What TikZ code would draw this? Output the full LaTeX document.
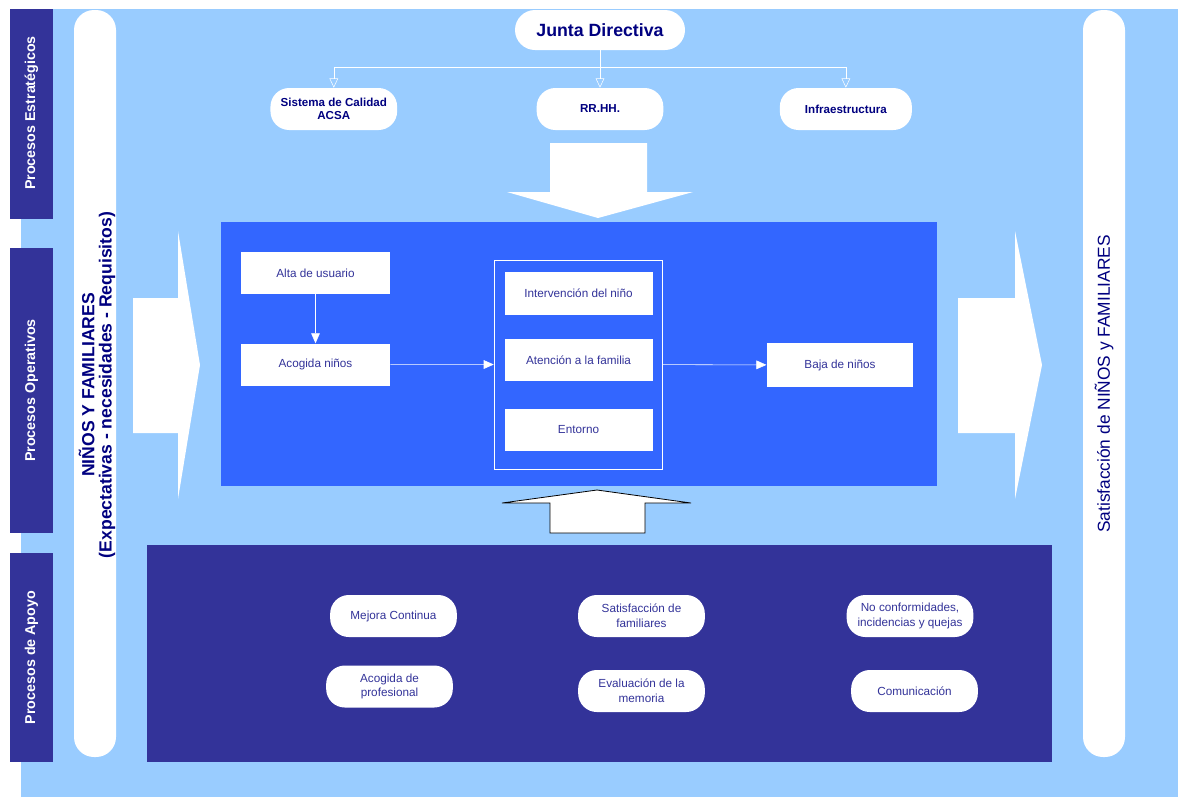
\documentclass[tikz,border=0pt]{standalone}
\usepackage{xcolor}
\usepackage{fontspec}
\setmainfont{Liberation Sans}
\usepackage{tikz}
\usetikzlibrary{positioning, arrows.meta}
\definecolor{fondo}{HTML}{99CCFF}
\definecolor{azuloper}{HTML}{3366FF}
\definecolor{azulapoyo}{HTML}{333399}
\definecolor{marino}{HTML}{000080}

\tikzset{
  estbox/.style={fill=white, rounded corners=14pt, minimum width=95pt,
    minimum height=31.5pt, text=marino, align=center,
    font=\fontsize{8.7}{10}\selectfont\bfseries},
  operbox/.style={fill=white, minimum width=111pt, minimum height=32pt,
    text=azulapoyo, font=\fontsize{8.8}{10}\selectfont},
  apoyobox/.style={fill=white, rounded corners=14pt, minimum width=95pt,
    minimum height=31.5pt, text=azulapoyo, align=center,
    font=\fontsize{8.8}{11}\selectfont},
  barlabel/.style={rotate=90, text=white,
    font=\fontsize{10.7}{12}\selectfont\bfseries},
  rama/.style={draw=white, -{Triangle[open, length=7pt, width=6.5pt]}},
  flujo/.style={draw=white, -{Triangle[length=7.5pt, width=6.5pt]}},
}

\begin{document}
\begin{tikzpicture}[x=0.75pt, y=-0.75pt]
  \useasboundingbox (0,0) rectangle (1181,797);
  % fondo y bandas
  \fill[fondo] (21,9) rectangle (1178,797);
  \fill[azulapoyo] (10,9) rectangle (53,219);
  \fill[azulapoyo] (10,248) rectangle (53,533);
  \fill[azulapoyo] (10,553) rectangle (53,762);
  \node[barlabel] (lblest) at (31.5,113) {Procesos Estratégicos};
  \node[barlabel] (lbloper) at (31.5,390.5) {Procesos Operativos};
  \node[barlabel] (lblapoyo) at (31.5,657.5) {Procesos de Apoyo};

  % entrada y salida
  \fill[white, rounded corners=15pt] (74,10) rectangle (116,757);
  \fill[white, rounded corners=15pt] (1083,10) rectangle (1125,757);
  \node[rotate=90, align=center, text=marino,
        font=\fontsize{13.2}{13}\selectfont\bfseries] (entrada) at (97,385)
    {NIÑOS Y FAMILIARES\\(Expectativas - necesidades - Requisitos)};
  \node[rotate=90, text=marino, font=\fontsize{13}{15}\selectfont]
    (salida) at (1104,384) {Satisfacción de NIÑOS y FAMILIARES};

  % flechas grandes
  \fill[white] (550,143) -- (647,143) -- (647,192) -- (693,192) -- (598,218)
    -- (507,192) -- (550,192) -- cycle;
  \fill[white] (133,298) -- (178,298) -- (178,231) -- (200,365) -- (178,499)
    -- (178,433) -- (133,433) -- cycle;
  \fill[white] (958,298) -- (1015,298) -- (1015,231) -- (1042,365)
    -- (1015,499) -- (1015,433) -- (958,433) -- cycle;
  \filldraw[fill=white, draw=black, line width=0.6pt] (550,533) -- (645,533)
    -- (645,503) -- (691,503) -- (597,490) -- (502,503) -- (550,503) -- cycle;

  % procesos estrategicos
  \node[fill=white, rounded corners=15pt, minimum width=127.5pt,
        minimum height=30pt, text=marino,
        font=\fontsize{13.3}{15}\selectfont\bfseries] (junta) at (600,30)
    {Junta Directiva};
  \node[estbox] (rrhh) at (600,109) {RR.HH.};
  \node[estbox, left=104.25pt of rrhh] (calidad) {Sistema de Calidad\\ACSA};
  \node[estbox, minimum width=99pt, right=87pt of rrhh] (infra)
    {Infraestructura};
  \coordinate[below=12.75pt of junta] (reparto);
  \draw[white] (junta) -- (reparto);
  \draw[rama] (reparto) -| (calidad.north);
  \draw[rama] (reparto) -- (rrhh.north);
  \draw[rama] (reparto) -| (infra.north);

  % procesos operativos
  \fill[azuloper] (221,222) rectangle (937,486);
  \node[draw=white, minimum width=126pt, minimum height=156.75pt] (grupo)
    at (578,364.5) {};
  \node[operbox, minimum width=112pt, minimum height=31.5pt] (alta)
    at (315.5,273) {Alta de usuario};
  \node[operbox, minimum width=112pt, minimum height=31.5pt,
        below=36.75pt of alta] (acogida) {Acogida niños};
  \node[operbox] (intervencion) at (578.5,293.5) {Intervención del niño};
  \node[operbox] (atencion) at (578.5,360) {Atención a la familia};
  \node[operbox] (entorno) at (578.5,430) {Entorno};
  \node[operbox, minimum width=110pt, minimum height=33pt] (baja)
    at (840,365) {Baja de niños};
  \draw[flujo] (alta) -- (acogida);
  \draw[flujo] (acogida) -- (grupo);
  \draw[flujo] (grupo) -- (baja);

  % procesos de apoyo
  \fill[azulapoyo] (147,545) rectangle (1052,762);
  \node[apoyobox] (mejora) at (393.5,616) {Mejora Continua};
  \node[apoyobox] (satisf) at (641.5,616) {Satisfacción de\\familiares};
  \node[apoyobox] (noconf) at (910,616)
    {No conformidades,\\incidencias y quejas};
  \node[apoyobox] (acogprof) at (389.5,686.5) {Acogida de\\profesional};
  \node[apoyobox] (evaluacion) at (641.5,691) {Evaluación de la\\memoria};
  \node[apoyobox] (comunic) at (914.5,691) {Comunicación};
\end{tikzpicture}
\end{document}
